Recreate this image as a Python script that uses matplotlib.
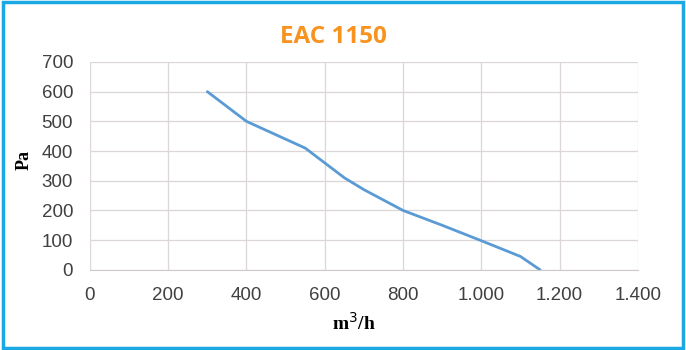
import matplotlib.pyplot as plt
import matplotlib.ticker as mticker
from matplotlib.patches import Rectangle

# ─── data ────────────────────────────────────────────────
flow = [300, 350, 400, 450, 500, 550, 600, 650, 700, 750, 800, 900, 1000, 1100, 1150]
pressure = [600, 550, 500, 470, 440, 410, 360, 310, 270, 235, 200, 150, 98, 45, 0]
x_ticks = [0, 200, 400, 600, 800, 1000, 1200, 1400]
y_ticks = [0, 100, 200, 300, 400, 500, 600, 700]

fig = plt.figure(figsize=(6.86, 3.5), dpi=100)
ax = fig.add_axes([0.131, 0.229, 0.799, 0.594])

ax.plot(flow, pressure, color='#5B9BD5', linewidth=2, solid_capstyle='round')

ax.set_xlim(0, 1400)
ax.set_ylim(0, 700)
ax.set_xticks(x_ticks)
ax.set_yticks(y_ticks)
ax.xaxis.set_major_formatter(mticker.FuncFormatter(lambda v, p: f"{int(v):,}".replace(',', '.')))

ax.grid(True, color='#DCD6D6', linewidth=0.9)
ax.set_axisbelow(True)
for side in ['top', 'right', 'left']:
    ax.spines[side].set_visible(False)
ax.spines['bottom'].set_color('#CFC9C9')

ax.tick_params(axis='both', length=0, labelsize=13.5, labelcolor='#404040')
ax.tick_params(axis='x', pad=12)
ax.tick_params(axis='y', pad=12)
for t in ax.get_xticklabels() + ax.get_yticklabels():
    t.set_family('Liberation Sans')

ax.set_ylabel('Pa', family='Liberation Serif', fontweight='bold', fontsize=13)
ax.set_xlabel('m$^3$/h', family='Liberation Serif', fontweight='bold', fontsize=14)
ax.yaxis.set_label_coords(-0.105, 0.53)
ax.xaxis.set_label_coords(0.482, -0.255)
ax.xaxis.label.set_va('center')

fig.text(0.486, 0.893, 'EAC 1150', ha='center', va='center', color='#F7931E',
         fontsize=17.5, fontweight='bold', family='Open Sans')

# blue frame round the picture
fig.patches.append(Rectangle((0.004, 0.006), 0.992, 0.988, transform=fig.transFigure,
                             fill=False, edgecolor='#1CA8E3', linewidth=2.5))

plt.savefig('out.png', dpi=100)
